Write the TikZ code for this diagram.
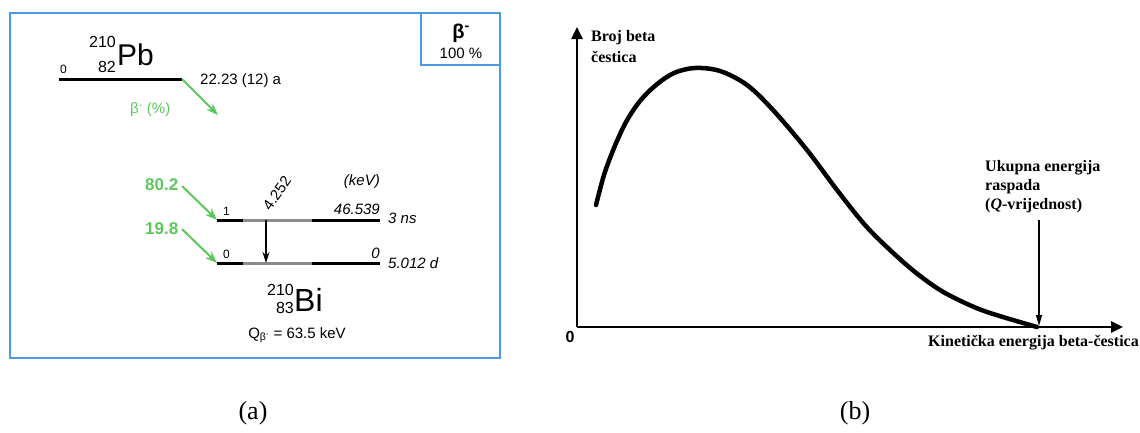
\documentclass[tikz,border=0pt]{standalone}
\usepackage{fontspec}
\setmainfont{Liberation Serif}
\newfontfamily\arialf{Liberation Sans}
\usetikzlibrary{arrows.meta}
\definecolor{boxblue}{RGB}{74,155,235}
\definecolor{decgreen}{RGB}{92,200,92}
\newcommand\fsz[1]{\fontsize{#1}{#1}\selectfont}
\begin{document}
\begin{tikzpicture}[x=1pt,y=-1pt,
  sans/.style={font=\arialf\fsz{15}, inner sep=0pt},
  sansit/.style={font=\arialf\itshape\fsz{15}, inner sep=0pt},
  sanssmall/.style={font=\arialf\fsz{12}, inner sep=0pt},
  grn/.style={font=\arialf\fsz{15}, text=decgreen, inner sep=0pt},
  grnbold/.style={font=\arialf\bfseries\fsz{17}, text=decgreen, inner sep=0pt},
  serifb/.style={font=\bfseries\fsz{16}, inner sep=0pt},
  caption/.style={font=\fsz{26}, inner sep=0pt},
  bluebox/.style={draw=boxblue, line width=2pt},
  level/.style={line width=3pt},
  graylevel/.style={line width=3pt, black!45},
  greenarrow/.style={draw=decgreen, line width=2pt, -{Stealth[length=12pt,width=9pt]}},
  gammaarrow/.style={draw=black, line width=1.5pt, -{Stealth[length=11pt,width=7pt]}},
  axis/.style={line width=2.5pt, -{Triangle[length=12pt,width=11pt]}},
  qarrow/.style={line width=1.3pt, -{Triangle[length=11pt,width=6pt]}}
]
\useasboundingbox (0,0) rectangle (1140,432);
% ---------------- panel (a)
\draw[bluebox] (10,13) rectangle (500,358);
\draw[bluebox] (421,13) rectangle (500,65);
\node[font=\arialf\bfseries\fsz{20}, inner sep=0pt] (bm) at (461,33) {β\textsuperscript{-}};
\node[sans] (bmp) at (461,53) {100 \%};
% Pb
\node[font=\arialf\fsz{30}, inner sep=0pt, anchor=base west] (pb) at (117,65) {Pb};
\node[font=\arialf\fsz{16}, inner sep=0pt, anchor=east] (pbA) at (116,42) {210};
\node[font=\arialf\fsz{16}, inner sep=0pt, anchor=east] (pbZ) at (116,67) {82};
\node[sanssmall, anchor=west] (pb0) at (60,69) {0};
\coordinate (pbL) at (59,79);
\coordinate (pbR) at (182,79);
\draw[level] (pbL) -- (pbR);
\node[sans, anchor=west] (pbT) at (200,81) {22.23 (12) a};
\coordinate (pbarr) at (218,115);
\draw[greenarrow] (pbR) -- (pbarr);
\node[grn, anchor=west] (bperc) at (130,110) {β\textsuperscript{-} (\%)};
% Bi levels
\coordinate (l1L) at (217,220); \coordinate (l1R) at (380,220);
\coordinate (l0L) at (217,263); \coordinate (l0R) at (380,263);
\draw[graylevel] (l1L) -- (l1R);
\draw[graylevel] (l0L) -- (l0R);
\draw[level] (l1L) -- (243,220) (312,220) -- (l1R);
\draw[level] (l0L) -- (243,263) (312,263) -- (l0R);
\node[sanssmall, anchor=west] (n1) at (223,211) {1};
\node[sanssmall, anchor=west] (n0) at (223,254) {0};
\node[sansit, anchor=east] (e1) at (380,209) {46.539};
\node[sansit, anchor=east] (e0) at (380,253) {0};
\node[sansit, anchor=west] (t1) at (388,218) {3 ns};
\node[sansit, anchor=west] (t0) at (388,263) {5.012 d};
\node[sansit, anchor=east] (kev) at (380,182) {(keV)};
\node[grnbold, anchor=west] (i1) at (145,185) {80.2};
\node[grnbold, anchor=west] (i0) at (145,229) {19.8};
\coordinate (i1s) at (182,186); \coordinate (i0s) at (182,229);
\draw[greenarrow] (i1s) -- (l1L);
\draw[greenarrow] (i0s) -- (l0L);
\coordinate (gtop) at (266,220); \coordinate (gbot) at (266,263);
\draw[gammaarrow] (gtop) -- (gbot);
\node[sans, rotate=55] (gE) at (277,193) {4.252};
% Bi
\node[font=\arialf\fsz{32}, inner sep=0pt, anchor=base west] (bi) at (294,311) {Bi};
\node[font=\arialf\fsz{16}, inner sep=0pt, anchor=east] (biA) at (294,290) {210};
\node[font=\arialf\fsz{16}, inner sep=0pt, anchor=east] (biZ) at (294,308) {83};
\node[sans] (qb) at (297,335) {Q\textsubscript{β\textsuperscript{-}} = 63.5 keV};
% ---------------- panel (b)
\coordinate (O) at (577,327);
\coordinate (ytip) at (577,27);
\coordinate (xtip) at (1123,327);
\draw[axis] (O) -- (ytip);
\draw[axis] (O) -- (xtip);
\node[serifb, anchor=west] (yl1) at (591,38) {Broj beta};
\node[serifb, anchor=west] (yl2) at (591,57) {čestica};
\node[font=\arialf\bfseries\fsz{16}, inner sep=0pt] (zero) at (570,337) {0};
\node[serifb, anchor=west] (xl) at (928,343) {Kinetička energija beta-čestica};
\draw[line width=4.5pt, line cap=round] plot[smooth, tension=0.55] coordinates {
 (596,205) (604,175) (614,148) (626,122) (640,101) (656,85) (674,73) (695,68) (720,71)
 (747,85) (773,110) (807,150) (837,190) (865,225) (890,250) (915,272) (940,290)
 (965,303) (990,313) (1037,327)};
\node[serifb, anchor=west] (u1) at (985,168) {Ukupna energija};
\node[serifb, anchor=west] (u2) at (985,187) {raspada};
\node[serifb, anchor=west] (u3) at (985,206) {(\textit{Q}-vrijednost)};
\coordinate (qtop) at (1039,220);
\coordinate (qbot) at (1039,326);
\draw[qarrow] (qtop) -- (qbot);
% captions
\node[caption] (ca) at (253,413) {(a)};
\node[caption] (cb) at (855,413) {(b)};
\end{tikzpicture}
\end{document}
